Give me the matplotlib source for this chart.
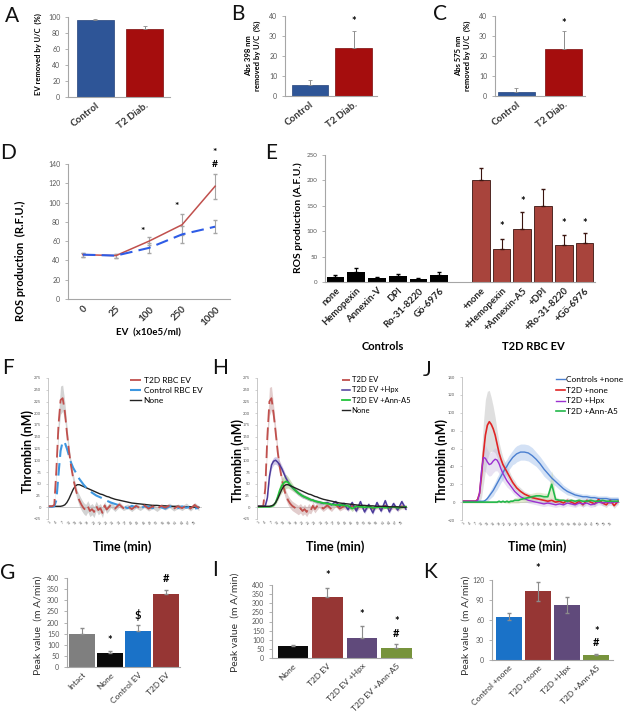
import numpy as np
import matplotlib.pyplot as plt

plt.rcParams['font.family'] = ['Lato', 'DejaVu Sans']

# ---- data ----
ab_cats = ['Control', 'T2 Diab.']
a_vals = [96, 85]
a_err = [1, 4]
b_vals = [5.5, 24]
b_err = [2.5, 8.5]
c_vals = [2, 23.5]
c_err = [2, 9]

d_cats = ['0', '25', '100', '250', '1000']
d_t2d = [46, 45, 60, 77, 117]
d_t2d_err = [2, 2, 4, 11, 13]
d_ctrl = [46, 45, 53, 67, 75]
d_ctrl_err = [2, 2, 5, 9, 7]

e_ctrl_cats = ['none', 'Hemopexin', 'Annexin-V', 'DPI', 'Ro-31-8220', 'Gö-6976']
e_ctrl_vals = [10, 19, 7, 12, 5, 14]
e_ctrl_err = [3, 9, 2, 4, 3, 6]
e_t2d_cats = ['+none', '+Hemopexin', '+Annexin-A5', '+DPI', '+Ro-31-8220', '+Gö-6976']
e_t2d_vals = [200, 65, 105, 150, 72, 77]
e_t2d_err = [24, 19, 33, 33, 20, 19]

# thrombin generation curves (F, H)
t_fh = [0, 1, 2, 3, 4, 5, 6, 7, 8, 9, 10, 11, 12, 13, 14, 15, 16, 17, 18, 19, 20,
        21, 22, 23, 24, 25, 26, 27, 28, 29, 30, 32, 34, 36, 38, 40, 42, 44, 46, 48,
        50, 52, 54, 56, 58, 60, 62, 64, 66, 68, 70, 72]
f_t2d = [2, 2, 2, 5, 80, 175, 228, 232, 205, 160, 120, 88, 62, 42, 25, 14, 5, -2, -6, 2, -8,
         -4, -10, 3, -6, -2, -12, 4, -5, 0, 5, -3, 6, -2, 2, -4, 3, -2, 4, -3,
         2, -4, 3, -1, 4, -3, 2, -2, 4, -3, 5, -2]
f_t2d_err = [1, 1, 1, 3, 10, 20, 30, 28, 20, 15, 12, 10, 10, 10, 10, 12, 12, 12, 12, 12, 12,
             12, 12, 10, 10, 10, 10, 8, 8, 8, 6, 6, 6, 5, 5, 5, 5, 5, 5, 5,
             5, 5, 5, 5, 5, 5, 5, 5, 5, 5, 5, 5]
f_ctrl = [1, 1, 1, 2, 15, 70, 120, 140, 138, 125, 110, 95, 84, 76, 68, 60, 54, 48, 43, 38, 34,
          31, 28, 25, 23, 21, 19, 16, 14, 12, 10, 7, 4, 2, -2, 3, 0, -3, 2, 1,
          -2, 2, 0, -3, 2, 1, -2, 2, -1, 1, -3, -1]
f_none = [2, 2, 2, 2, 2, 2, 2, 3, 5, 10, 18, 28, 38, 45, 48, 48, 46, 44, 42, 40, 38,
          36, 34, 32, 30, 28, 27, 25, 23, 22, 20, 17, 15, 13, 11, 9, 8, 7, 6, 5,
          4, 4, 3, 3, 2, 2, 2, 1, 1, 1, 0, 0]

h_t2d = [2, 2, 2, 3, 40, 150, 225, 232, 200, 160, 118, 85, 60, 40, 25, 15, 8, 3, 0, -3, -6,
         -2, -8, -4, -10, -2, -6, 3, -4, 2, 5, -3, 4, -4, 6, -3, 2, -2, 3, -3,
         2, -2, 3, -3, 2, -2, 3, -2, 2, -3, 2, 0]
h_t2d_err = [1, 1, 1, 3, 10, 20, 30, 25, 18, 14, 12, 10, 10, 10, 10, 10, 10, 10, 10, 10, 10,
             10, 10, 10, 10, 10, 8, 8, 8, 8, 6, 6, 6, 5, 5, 5, 5, 5, 5, 5,
             5, 5, 5, 5, 5, 5, 5, 5, 5, 5, 5, 5]
h_hpx = [2, 2, 2, 2, 3, 20, 65, 90, 98, 100, 96, 90, 82, 72, 62, 54, 47, 42, 38, 34, 30,
         27, 24, 22, 20, 18, 16, 15, 13, 12, 11, 8, 10, 5, 12, 2, 8, -5, 10, -8,
         12, -10, 6, -12, 10, -8, 14, -10, 8, -6, 12, -4]
h_hpx_err = [1, 1, 1, 1, 2, 4, 6, 8, 8, 8, 8, 8, 7, 7, 6, 6, 5, 5, 5, 5, 5,
             5, 5, 4, 4, 4, 4, 4, 4, 4, 4, 4, 4, 4, 4, 4, 4, 4, 4, 4,
             4, 4, 4, 4, 4, 4, 4, 4, 4, 4, 4, 4]
h_ann = [1, 1, 1, 1, 1, 1, 1, 2, 4, 10, 22, 36, 46, 52, 55, 53, 48, 43, 38, 34, 30,
         27, 24, 22, 20, 18, 16, 15, 13, 12, 11, 9, 8, 6, 5, 5, 4, 3, -3, 2,
         1, 0, 1, -1, 0, 1, -1, 0, 1, -1, 0, 1]
h_ann_err = [1, 1, 1, 1, 1, 1, 1, 1, 2, 4, 8, 12, 15, 16, 15, 12, 10, 8, 6, 5, 5,
             4, 4, 4, 4, 4, 3, 3, 3, 3, 3, 3, 3, 3, 3, 3, 3, 3, 6, 3,
             2, 2, 2, 2, 2, 2, 2, 2, 2, 2, 2, 2]
h_none = [2, 2, 2, 2, 2, 2, 2, 3, 5, 10, 18, 28, 38, 45, 48, 48, 46, 44, 42, 40, 38,
          36, 34, 32, 30, 28, 27, 25, 23, 22, 20, 17, 15, 13, 11, 9, 8, 7, 6, 5,
          4, 4, 3, 3, 2, 2, 2, 1, 1, 1, 0, 0]

# thrombin generation curves (J)
t_j = [0, 2, 4, 6, 7, 8, 9, 10, 11, 12, 13, 14, 15, 16, 17, 18, 19, 20, 21, 22, 23, 24,
       25, 26, 27, 28, 29, 30, 32, 34, 36, 38, 40, 42, 44, 46, 48, 50, 52, 54, 56, 58,
       60, 62, 64, 66, 68, 70, 72, 74, 76, 78, 80]
j_ctrl = [1, 1, 1, 1, 1, 1, 1, 1, 1, 2, 4, 7, 10, 13, 17, 21, 25, 29, 33, 37, 40, 44,
          47, 50, 52, 54, 55, 56, 56, 55, 52, 48, 43, 37, 32, 27, 23, 19, 15, 12, 10, 8,
          7, 6, 6, 5, 5, 4, 4, 4, 3, 3, 3]
j_ctrl_err = [1, 1, 1, 1, 1, 1, 1, 1, 1, 2, 3, 4, 5, 6, 6, 7, 7, 7, 8, 8, 8, 8,
              8, 8, 9, 9, 9, 9, 9, 9, 9, 8, 8, 8, 7, 6, 5, 5, 4, 4, 3, 3,
              3, 3, 3, 3, 3, 3, 3, 3, 3, 3, 3]
j_t2d = [1, 1, 1, 1, 1, 3, 10, 30, 55, 75, 86, 90, 87, 82, 75, 65, 55, 48, 42, 38, 34, 30,
         26, 22, 19, 16, 14, 12, 9, 7, 5, 4, 3, 2, 1, 2, 0, 1, -1, 2, 0, -2,
         1, -3, 2, 0, -2, 3, -1, -3, 2, -4, 1]
j_t2d_err = [1, 1, 1, 1, 1, 2, 10, 25, 35, 40, 38, 35, 30, 25, 20, 15, 12, 10, 8, 7, 6, 6,
             5, 5, 5, 4, 4, 4, 3, 3, 3, 3, 3, 3, 3, 3, 3, 3, 3, 3, 3, 3,
             3, 3, 3, 3, 3, 3, 3, 3, 3, 3, 3]
j_hpx = [1, 1, 1, 1, 1, 2, 10, 35, 50, 49, 45, 42, 43, 46, 48, 47, 43, 37, 32, 28, 24, 21,
         18, 15, 12, 10, 8, 6, 4, 2, 1, 0, -1, -2, -1, -2, -3, -2, -3, -1, -2, -3,
         -1, -2, -1, -3, -2, 0, -1, 0, -1, 0, 0]
j_hpx_err = [1, 1, 1, 1, 1, 2, 6, 12, 15, 15, 14, 13, 13, 13, 13, 12, 11, 10, 9, 8, 7, 6,
             5, 5, 4, 4, 4, 3, 3, 3, 3, 3, 3, 3, 3, 3, 3, 3, 3, 3, 3, 3,
             3, 3, 3, 3, 3, 3, 3, 3, 3, 3, 3]
j_ann = [0, 0, 0, 0, 0, 0, 0, 0, 0, 0, 0, 0, 0, 0, 0, 0, 1, 0, 1, 0, 1, 0,
         1, 1, 2, 2, 2, 3, 4, 5, 6, 7, 7, 6, 6, 20, 3, 2, 2, 1, 2, 1,
         2, 1, 1, 2, 1, 1, 2, 1, 1, 1, 1]
j_ann_err = [1, 1, 1, 1, 1, 1, 1, 1, 1, 1, 1, 1, 1, 1, 1, 1, 1, 1, 1, 1, 2, 2,
             2, 2, 3, 3, 3, 3, 4, 4, 4, 4, 4, 4, 4, 15, 3, 2, 2, 2, 2, 2,
             2, 2, 2, 2, 2, 2, 2, 2, 2, 2, 2]

g_cats = ['Intact', 'None', 'Control EV', 'T2D EV']
g_vals = [150, 65, 163, 330]
g_err = [25, 8, 27, 18]

i_cats = ['None', 'T2D EV', 'T2D EV +Hpx', 'T2D EV +Ann-A5']
i_vals = [67, 333, 108, 57]
i_err = [5, 52, 67, 18]

k_cats = ['Control +none', 'T2D +none', 'T2D +Hpx', 'T2D +Ann-A5']
k_vals = [65, 103, 83, 8]
k_err = [5, 14, 12, 1]

# ---- layout helpers ----
W, H = 625, 724
fig = plt.figure(figsize=(6.25, 7.24), dpi=100)

def add_ax(l, t, r, b):
    return fig.add_axes([l / W, 1 - b / H, (r - l) / W, (b - t) / H])

def ftext(x, y, s, **kw):
    fig.text(x / W, 1 - y / H, s, **kw)

def style(ax, size=5):
    for s in ['top', 'right']:
        ax.spines[s].set_visible(False)
    for s in ['left', 'bottom']:
        ax.spines[s].set_color('#a6a6a6')
        ax.spines[s].set_linewidth(0.8)
    ax.tick_params(axis='y', labelsize=size, colors='#a6a6a6', labelcolor='#595959', length=2, width=0.6)
    ax.tick_params(axis='x', length=0, labelcolor='#333333', pad=3)

GREY = '#8c8c8c'
blue_a = '#2e5597'
red_a = '#a50d0d'

# panel letters
for lab, x, y in [('A', 12, 16), ('B', 238, 14), ('C', 440, 14), ('D', 8, 153), ('E', 271, 153),
                  ('F', 8, 368), ('H', 220, 368), ('J', 427, 370), ('G', 8, 573), ('I', 215, 570),
                  ('K', 430, 572)]:
    ftext(x, y, lab, fontsize=15, ha='center', va='center', color='#111111')

# ---- A, B, C ----
def abc(ax, vals, err, ymax, step, width):
    x = np.arange(len(vals))
    ax.bar(x, vals, width=width, color=[blue_a, red_a], edgecolor=['#24427a', '#7a0a0a'], linewidth=0.5)
    ax.errorbar(x, vals, yerr=[np.zeros(len(vals)), err], fmt='none', ecolor=GREY, elinewidth=0.7, capsize=1.5, capthick=0.6)
    ax.set_ylim(0, ymax)
    ax.set_yticks(np.arange(0, ymax + 1, step))
    style(ax)
    ax.set_xticks(x, ab_cats, rotation=38, ha='right', rotation_mode='anchor', fontsize=7, fontweight='bold')

axA = add_ax(68, 17, 170, 97)
abc(axA, a_vals, a_err, 100, 20, 0.76)
axA.set_xlim(-0.56, 1.52)
ftext(38, 54, 'EV removed by U/C  (%)', rotation=90, ha='center', va='center', fontsize=5.5, fontweight='bold')

axB = add_ax(285, 16, 377, 96)
abc(axB, b_vals, b_err, 40, 10, 0.84)
axB.set_xlim(-0.57, 1.53)
axB.text(1, 37, '*', ha='center', va='center', fontsize=8, fontweight='bold')
ftext(253, 56, 'Abs 398 nm\nremoved by U/C  (%)', rotation=90, ha='center', va='center', fontsize=5.5, fontweight='bold', linespacing=1.3)

axC = add_ax(495, 16, 585, 96)
abc(axC, c_vals, c_err, 40, 10, 0.78)
axC.set_xlim(-0.45, 1.45)
axC.text(1, 36, '*', ha='center', va='center', fontsize=8, fontweight='bold')
ftext(463, 56, 'Abs 575 nm\nremoved by U/C  (%)', rotation=90, ha='center', va='center', fontsize=5.5, fontweight='bold', linespacing=1.3)

# ---- D ----
axD = add_ax(68, 164, 230, 299)
xd = np.arange(len(d_cats))
axD.errorbar(xd, d_t2d, yerr=d_t2d_err, fmt='none', ecolor='#a6a6a6', elinewidth=0.8, capsize=1.5)
axD.errorbar(xd, d_ctrl, yerr=d_ctrl_err, fmt='none', ecolor='#a6a6a6', elinewidth=0.8, capsize=1.5)
axD.plot(xd, d_t2d, color='#c0504d', lw=1.1)
axD.plot(xd, d_ctrl, color='#2e5ce6', lw=1.5, ls=(0, (6, 3)))
axD.set_xlim(-0.45, 4.45)
axD.set_ylim(0, 140)
axD.set_yticks(np.arange(0, 141, 20))
style(axD)
axD.set_xticks(xd, d_cats, rotation=45, ha='right', rotation_mode='anchor', fontsize=7, fontweight='bold')
axD.tick_params(axis='x', pad=4)
for xx, yy, s in [(1.8, 70, '*'), (2.85, 96, '*'), (4, 152, '*'), (4, 139, '#')]:
    axD.text(xx, yy, s, ha='center', va='center', fontsize=7.5, fontweight='bold', clip_on=False)
ftext(20, 261, 'ROS production  (R.F.U.)', rotation=90, ha='center', va='center', fontsize=8, fontweight='bold')
ftext(148, 333, 'EV  (x10e5/ml)', ha='center', va='center', fontsize=7, fontweight='bold')

# ---- E ----
axE = add_ax(325, 155, 595, 282)
xc = np.arange(6)
xt = np.arange(7, 13)
axE.bar(xc, e_ctrl_vals, width=0.85, color='black')
axE.errorbar(xc, e_ctrl_vals, yerr=[np.zeros(6), e_ctrl_err], fmt='none', ecolor='black', elinewidth=0.8, capsize=1.5)
axE.bar(xt, e_t2d_vals, width=0.85, color='#a8443c', edgecolor='#3a1510', linewidth=0.6)
axE.errorbar(xt, e_t2d_vals, yerr=[np.zeros(6), e_t2d_err], fmt='none', ecolor='#3a1510', elinewidth=0.8, capsize=1.5)
axE.set_xlim(-0.5, 12.5)
axE.set_ylim(0, 250)
axE.set_yticks(np.arange(0, 251, 50))
style(axE, size=4.5)
axE.set_xticks(list(xc) + list(xt), e_ctrl_cats + e_t2d_cats, rotation=45, ha='right', rotation_mode='anchor',
               fontsize=6.8, fontweight='bold', color='#222222')
for xx, yy in [(8, 110), (9, 158), (11, 115), (12, 115)]:
    axE.text(xx, yy, '*', ha='center', va='center', fontsize=8, fontweight='bold')
ftext(298, 218, 'ROS production (A.F.U.)', rotation=90, ha='center', va='center', fontsize=7.5, fontweight='bold')
ftext(383, 347, 'Controls', ha='center', va='center', fontsize=8, fontweight='bold')
ftext(533, 347, 'T2D RBC EV', ha='center', va='center', fontsize=8, fontweight='bold')

# ---- thrombin curves ----
def thrombin_axes(ax, xmax, ylo, yhi, ystep, nticks):
    ax.set_xlim(0, xmax)
    ax.set_ylim(ylo, yhi)
    ax.set_yticks(np.arange(ylo, yhi + 1, ystep))
    ticks = [1 + 3 * i for i in range(nticks)]
    ax.set_xticks(ticks, [str(v) for v in ticks], rotation=45, fontsize=2.5)
    for s in ['top', 'right', 'bottom']:
        ax.spines[s].set_visible(False)
    ax.spines['left'].set_color('#bfbfbf')
    ax.spines['left'].set_linewidth(0.6)
    ax.tick_params(axis='y', labelsize=3, colors='#bfbfbf', labelcolor='#595959', length=1.5, width=0.5)
    ax.tick_params(axis='x', length=0, labelcolor='#595959', pad=1)
    ax.axhline(0, color='#c8c8c8', lw=0.6, zorder=0)

def band(ax, t, y, e, color, alpha):
    y = np.array(y)
    e = np.array(e)
    ax.fill_between(t, y - e, y + e, color=color, alpha=alpha, lw=0)

axF = add_ax(48, 378, 202, 519)
thrombin_axes(axF, 73.5, -25, 275, 25, 24)
band(axF, t_fh, f_t2d, f_t2d_err, '#9e9e9e', 0.45)
axF.plot(t_fh, f_none, color='#222222', lw=1.0, label='None')
axF.plot(t_fh, f_ctrl, color='#3d97e0', lw=1.5, ls=(0, (6, 3)), label='Control RBC EV')
axF.plot(t_fh, f_t2d, color='#c0504d', lw=1.3, ls=(0, (7, 3)), label='T2D RBC EV')
hF, lF = axF.get_legend_handles_labels()
axF.legend(hF[::-1], lF[::-1], loc='upper right', bbox_to_anchor=(1.05, 1.06), frameon=False, fontsize=6,
           handlelength=1.3, handletextpad=0.3, labelspacing=0.35)
ftext(28, 452, 'Thrombin (nM)', rotation=90, ha='center', va='center', fontsize=9, fontweight='bold')
ftext(122, 547, 'Time (min)', ha='center', va='center', fontsize=9, fontweight='bold')

axH = add_ax(257, 378, 408, 519)
thrombin_axes(axH, 73, -25, 275, 25, 24)
band(axH, t_fh, h_t2d, h_t2d_err, '#c09090', 0.45)
band(axH, t_fh, h_hpx, h_hpx_err, '#a090d0', 0.5)
band(axH, t_fh, h_ann, h_ann_err, '#a0c080', 0.5)
axH.plot(t_fh, h_t2d, color='#c0504d', lw=1.3, ls=(0, (7, 3)), label='T2D EV')
axH.plot(t_fh, h_hpx, color='#4b3a9a', lw=1.1, label='T2D EV +Hpx')
axH.plot(t_fh, h_ann, color='#22c43a', lw=1.3, label='T2D EV +Ann-A5')
axH.plot(t_fh, h_none, color='#222222', lw=1.0, label='None')
axH.legend(loc='upper right', bbox_to_anchor=(1.06, 1.06), frameon=False, fontsize=5.5,
           handlelength=1.1, handletextpad=0.2, labelspacing=0.4)
ftext(238, 460, 'Thrombin (nM)', rotation=90, ha='center', va='center', fontsize=9, fontweight='bold')
ftext(335, 547, 'Time (min)', ha='center', va='center', fontsize=9, fontweight='bold')

axJ = add_ax(462, 377, 620, 520)
thrombin_axes(axJ, 81, -20, 140, 20, 26)
band(axJ, t_j, j_t2d, j_t2d_err, '#b0b0b0', 0.4)
band(axJ, t_j, j_hpx, j_hpx_err, '#c8b8e0', 0.4)
band(axJ, t_j, j_ctrl, j_ctrl_err, '#a8c4ec', 0.5)
band(axJ, t_j, j_ann, j_ann_err, '#c8d8a0', 0.5)
axJ.plot(t_j, j_ctrl, color='#4a7fd0', lw=1.0, label='Controls +none')
axJ.plot(t_j, j_t2d, color='#e02525', lw=1.2, label='T2D +none')
axJ.plot(t_j, j_hpx, color='#9b30d0', lw=1.0, label='T2D +Hpx')
axJ.plot(t_j, j_ann, color='#22b84a', lw=1.2, label='T2D +Ann-A5')
axJ.legend(loc='upper right', bbox_to_anchor=(1.07, 1.06), frameon=False, fontsize=6,
           handlelength=1.0, handletextpad=0.2, labelspacing=0.45)
ftext(442, 460, 'Thrombin (nM)', rotation=90, ha='center', va='center', fontsize=9, fontweight='bold')
ftext(537, 547, 'Time (min)', ha='center', va='center', fontsize=9, fontweight='bold')

# ---- G, I, K ----
def peak_bars(ax, cats, vals, err, colors, ymax, step, width, sym=False):
    x = np.arange(len(vals))
    ax.bar(x, vals, width=width, color=colors)
    lower = err if sym else np.zeros(len(vals))
    ax.errorbar(x, vals, yerr=[lower, err], fmt='none', ecolor=GREY, elinewidth=0.8, capsize=1.5)
    ax.set_ylim(0, ymax)
    ax.set_yticks(np.arange(0, ymax + 1, step))
    style(ax)
    ax.set_xticks(x, cats, rotation=45, ha='right', rotation_mode='anchor', fontsize=6)

axG = add_ax(67, 578, 180, 667)
peak_bars(axG, g_cats, g_vals, g_err, ['#7f7f7f', '#0a0a0a', '#1a72c8', '#963634'], 400, 50, 0.92)
axG.set_xlim(-0.54, 3.5)
for xx, yy, s in [(1, 120, '*'), (2, 232, '$'), (3, 396, '#')]:
    axG.text(xx, yy, s, ha='center', va='center', fontsize=8, fontweight='bold', clip_on=False)
ftext(38, 625, 'Peak value  (m A/min)', rotation=90, ha='center', va='center', fontsize=7.5, color='#333333')

axI = add_ax(272, 585, 412, 658)
peak_bars(axI, i_cats, i_vals, i_err, ['#0a0a0a', '#963634', '#604a7b', '#77933c'], 400, 50, 0.88)
axI.set_xlim(-0.6, 3.45)
for xx, yy, s in [(1, 454, '*'), (2, 236, '*'), (3, 200, '*'), (3, 136, '#')]:
    axI.text(xx, yy, s, ha='center', va='center', fontsize=8, fontweight='bold', clip_on=False)
ftext(235, 622, 'Peak value  (m A/min)', rotation=90, ha='center', va='center', fontsize=7.5, color='#333333')

axK = add_ax(492, 580, 613, 660)
peak_bars(axK, k_cats, k_vals, k_err, ['#1a72c8', '#963634', '#604a7b', '#77933c'], 120, 30, 0.9, sym=True)
axK.set_xlim(-0.57, 3.57)
for xx, yy, s in [(1, 137, '*'), (3, 43, '*'), (3, 26, '#')]:
    axK.text(xx, yy, s, ha='center', va='center', fontsize=8, fontweight='bold', clip_on=False)
ftext(466, 625, 'Peak value  (m A/min)', rotation=90, ha='center', va='center', fontsize=7.5, color='#333333')

fig.savefig('out.png', dpi=100)
